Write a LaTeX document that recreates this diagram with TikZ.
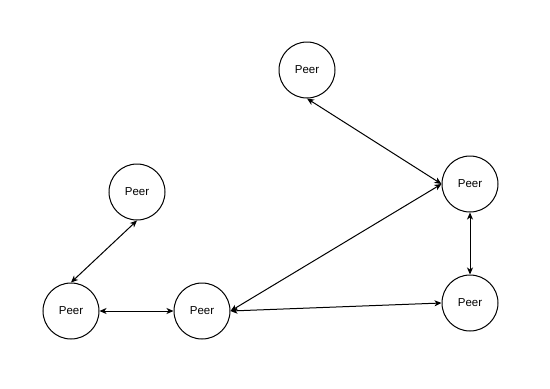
\documentclass[tikz,border=0pt]{standalone}
\usepackage{fontspec}
\setmainfont{Liberation Sans}
\usetikzlibrary{arrows.meta}
\begin{document}
\begin{tikzpicture}[x=1pt,y=-1pt,
  peer/.style={circle,draw,line width=1pt,minimum size=56pt,inner sep=0pt,font=\fontsize{11.5}{13}\selectfont},
  link/.style={line width=1pt,{Stealth[length=7pt,width=6pt,inset=2pt]}-{Stealth[length=7pt,width=6pt,inset=2pt]}}]
\useasboundingbox (0,0) rectangle (550,389);
\node[peer] (top) at (307,70) {Peer};
\node[peer] (right) at (470,184) {Peer};
\node[peer] (lt) at (137,192) {Peer};
\node[peer] (bl) at (71,311) {Peer};
\node[peer] (bm) at (202,311) {Peer};
\node[peer] (br) at (470,303) {Peer};
\draw[link] (top.south) -- (right.west);
\draw[link] (lt.south) -- (bl.north);
\draw[link] (bl.east) -- (bm.west);
\draw[link] (bm.east) -- (right.west);
\draw[link] (bm.east) -- (br.west);
\draw[link] (right.south) -- (br.north);
\end{tikzpicture}
\end{document}
